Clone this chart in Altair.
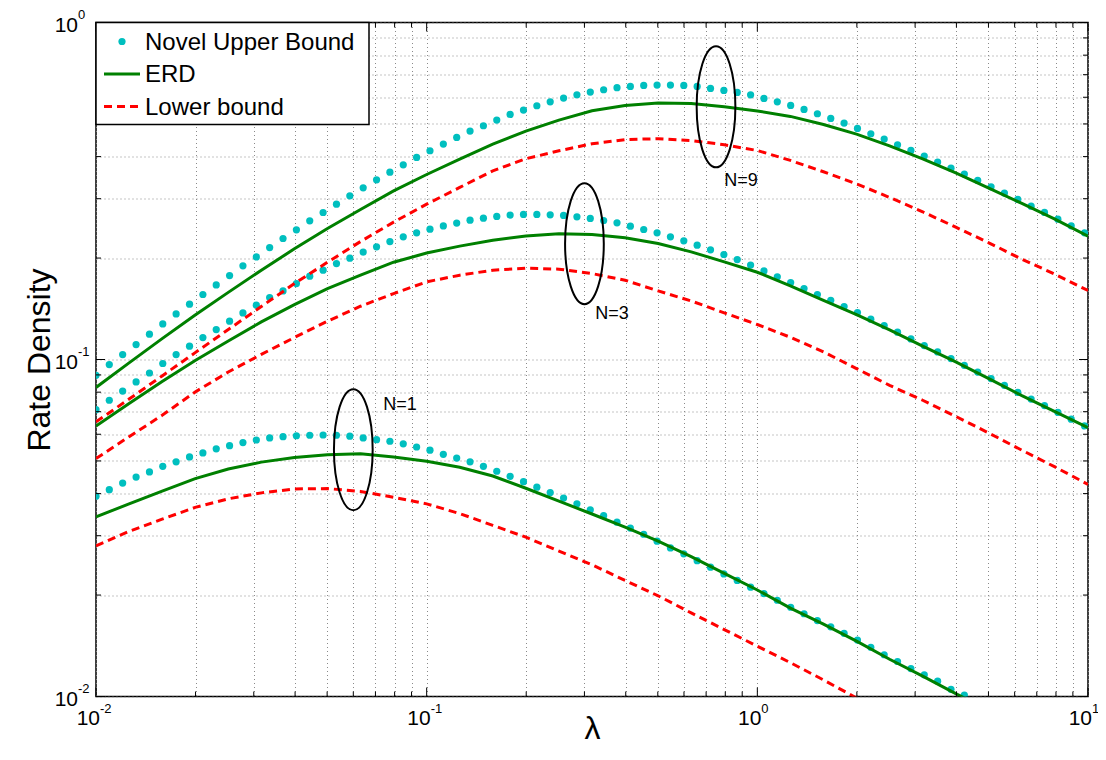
import altair as alt
import pandas as pd

# ---------------- data ----------------
# sample points of the "Novel Upper Bound" dots (lambda)
LAM_DOTS = [0.01000, 0.01097, 0.01204, 0.01322, 0.01451, 0.01592, 0.01747, 0.01918, 0.02105, 0.02310,
            0.02535, 0.02782, 0.03054, 0.03351, 0.03678, 0.04037, 0.04430, 0.04862, 0.05336, 0.05856,
            0.06427, 0.07054, 0.07741, 0.08496, 0.09324,
            0.10233, 0.11231, 0.12326, 0.13527, 0.14846, 0.16293, 0.17882, 0.19625, 0.21538, 0.23638,
            0.25942, 0.28471, 0.31247, 0.34293, 0.37637, 0.41306, 0.45333, 0.49752, 0.54602, 0.59925,
            0.65768, 0.72180, 0.79215, 0.86938, 0.95414,
            1.0472, 1.1492, 1.2613, 1.3843, 1.5192, 1.6673, 1.8298, 2.0082, 2.2040, 2.4189,
            2.6547, 2.9135, 3.1976, 3.5093, 3.8514, 4.2269, 4.6389, 5.0912, 5.5875, 6.1322,
            6.7301, 7.3862, 8.1063, 8.8964, 9.7638]

UB_N9 = [0.0898, 0.0966, 0.1034, 0.1107, 0.1189, 0.1275, 0.1365, 0.1459, 0.1559, 0.1665,
         0.1775, 0.1896, 0.2016, 0.2149, 0.2286, 0.2425, 0.2579, 0.2730, 0.2891, 0.3060,
         0.3231, 0.3413, 0.3597, 0.3783, 0.3978, 0.4163, 0.4357, 0.4560, 0.4762, 0.4939,
         0.5134, 0.5337, 0.5497, 0.5662, 0.5818, 0.5966, 0.6104, 0.6216, 0.6316, 0.6404,
         0.6463, 0.6507, 0.6522, 0.6522, 0.6507, 0.6463, 0.6374, 0.6288, 0.6203, 0.6100,
         0.5953, 0.5818, 0.5675, 0.5521, 0.5361, 0.5193, 0.5029, 0.4850, 0.4676, 0.4508,
         0.4337, 0.4173, 0.4014, 0.3852, 0.3697, 0.3549, 0.3398, 0.3255, 0.3117, 0.2985,
         0.2851, 0.2731, 0.2609, 0.2492, 0.2376]

UB_N3 = [0.0710, 0.0757, 0.0806, 0.0858, 0.0912, 0.0973, 0.1034, 0.1095, 0.1162, 0.1227,
         0.1299, 0.1375, 0.1449, 0.1527, 0.1598, 0.1680, 0.1767, 0.1841, 0.1926, 0.1998,
         0.2083, 0.2159, 0.2239, 0.2312, 0.2376, 0.2436, 0.2490, 0.2540, 0.2591, 0.2627,
         0.2657, 0.2682, 0.2694, 0.2694, 0.2688, 0.2676, 0.2651, 0.2621, 0.2585, 0.2544,
         0.2487, 0.2431, 0.2376, 0.2312, 0.2250, 0.2184, 0.2115, 0.2049, 0.1980, 0.1907,
         0.1832, 0.1759, 0.1692, 0.1624, 0.1559, 0.1499, 0.1436, 0.1378, 0.1317, 0.1261,
         0.1205, 0.1151, 0.1100, 0.1053, 0.1006, 0.0961, 0.0918, 0.0878, 0.0838, 0.0799,
         0.0763, 0.0730, 0.0697, 0.0665, 0.0635]

UB_N1 = [0.0393, 0.0411, 0.0430, 0.0448, 0.0464, 0.0482, 0.0497, 0.0514, 0.0528, 0.0543,
         0.0555, 0.0567, 0.0577, 0.0585, 0.0590, 0.0594, 0.0596, 0.0597, 0.0596, 0.0592,
         0.0585, 0.0578, 0.0572, 0.0562, 0.0550, 0.0538, 0.0523, 0.0510, 0.0497, 0.0482,
         0.0466, 0.0450, 0.0434, 0.0418, 0.0403, 0.0388, 0.0373, 0.0358, 0.0344, 0.0329,
         0.0316, 0.0303, 0.0289, 0.0276, 0.0265, 0.0253, 0.0242, 0.0231, 0.0221, 0.0211,
         0.0202, 0.0193, 0.0184, 0.0176, 0.0168, 0.0161, 0.0154, 0.0147, 0.0140, 0.0133,
         0.0127, 0.0121, 0.0116, 0.0111, 0.0105, 0.0101]

# sample points of the two line series (lambda)
LAM_LINE = [0.01, 0.012589, 0.015849, 0.019953, 0.025119, 0.031623, 0.039811, 0.050119, 0.063096, 0.079433,
            0.1, 0.12589, 0.15849, 0.19953, 0.25119, 0.31623, 0.39811, 0.50119, 0.63096, 0.79433,
            1.0, 1.2589, 1.5849, 1.9953, 2.5119, 3.1623, 3.9811, 5.0119, 6.3096, 7.9433, 10.0]

ERD_N9 = [0.0826, 0.0977, 0.1153, 0.1355, 0.1582, 0.1841, 0.2130, 0.2447, 0.2787, 0.3166,
          0.3540, 0.3932, 0.4357, 0.4762, 0.5134, 0.5471, 0.5675, 0.5767, 0.5754, 0.5623,
          0.5465, 0.5264, 0.4983, 0.4665, 0.4307, 0.3941, 0.3581, 0.3225, 0.2904, 0.2609, 0.2323]
ERD_N3 = [0.0635, 0.0740, 0.0860, 0.0993, 0.1135, 0.1293, 0.1455, 0.1622, 0.1779, 0.1944,
          0.2070, 0.2170, 0.2260, 0.2327, 0.2360, 0.2349, 0.2296, 0.2209, 0.2087, 0.1948,
          0.1815, 0.1655, 0.1499, 0.1359, 0.1224, 0.1095, 0.0984, 0.0878, 0.0781, 0.0700, 0.0628]
ERD_N1 = [0.0341, 0.0373, 0.0407, 0.0443, 0.0473, 0.0496, 0.0512, 0.0522, 0.0525, 0.0514,
          0.0499, 0.0479, 0.0451, 0.0415, 0.0380, 0.0348, 0.0318, 0.0289, 0.0260, 0.0232,
          0.0207, 0.0183, 0.0164, 0.0146, 0.0129, 0.0115, 0.0102, 0.0091]

LB_N9 = [0.0653, 0.0763, 0.0894, 0.1048, 0.1227, 0.1436, 0.1680, 0.1944, 0.2239, 0.2557,
         0.2890, 0.3240, 0.3630, 0.3941, 0.4163, 0.4366, 0.4493, 0.4521, 0.4466, 0.4337,
         0.4170, 0.3897, 0.3606, 0.3322, 0.3026, 0.2744, 0.2470, 0.2220, 0.1985, 0.1791, 0.1602]
LB_N3 = [0.0508, 0.0590, 0.0683, 0.0801, 0.0918, 0.1036, 0.1162, 0.1299, 0.1439, 0.1569,
         0.1700, 0.1779, 0.1841, 0.1866, 0.1854, 0.1799, 0.1719, 0.1598, 0.1492, 0.1375,
         0.1270, 0.1164, 0.1053, 0.0940, 0.0838, 0.0757, 0.0678, 0.0605, 0.0538, 0.0480, 0.0426]
LB_N1 = [0.0280, 0.0309, 0.0336, 0.0364, 0.0386, 0.0402, 0.0413, 0.0414, 0.0406, 0.0390,
         0.0373, 0.0349, 0.0322, 0.0297, 0.0270, 0.0246, 0.0221, 0.0199, 0.0177, 0.0158,
         0.0141, 0.0126, 0.0112, 0.0099]

SERIES = ["Novel Upper Bound", "ERD", "Lower bound"]
COLORS = ["#00BFBF", "#008000", "#FF0000"]

# annotations: ellipse centres and labels
ELL_LAM = [0.06, 0.30, 0.75]
ELL_VAL = [0.0540, 0.2207, 0.562]
LBL_TXT = ["N=1", "N=3", "N=9"]
LBL_LAM = [0.0830, 0.3634, 0.892]
LBL_VAL = [0.0731, 0.1363, 0.3383]

# axes
X_MAJOR = [0.01, 0.1, 1, 10]
X_EXP = ["-2", "-1", "0", "1"]
Y_MAJOR = [0.01, 0.1, 1]
Y_EXP = ["-2", "-1", "0"]
X_MINOR = [m * d for d in [0.01, 0.1, 1] for m in range(2, 10)]
Y_MINOR = [m * d for d in [0.01, 0.1] for m in range(2, 10)]

# ---------------- build tables ----------------
def long(lams, vals, n):
    return pd.DataFrame({"lam": lams[:len(vals)], "val": vals, "N": n})

dots = pd.concat([long(LAM_DOTS, UB_N9, "9"), long(LAM_DOTS, UB_N3, "3"), long(LAM_DOTS, UB_N1, "1")])
erd = pd.concat([long(LAM_LINE, ERD_N9, "9"), long(LAM_LINE, ERD_N3, "3"), long(LAM_LINE, ERD_N1, "1")])
lb = pd.concat([long(LAM_LINE, LB_N9, "9"), long(LAM_LINE, LB_N3, "3"), long(LAM_LINE, LB_N1, "1")])

W, H = 992, 674
FONT = "Liberation Sans"

xscale = alt.Scale(type="log", domain=[0.01, 10], nice=False)
yscale = alt.Scale(type="log", domain=[0.01, 1], nice=False)
X = alt.X("lam:Q", scale=xscale,
          axis=alt.Axis(values=X_MAJOR + X_MINOR, grid=True, labels=False, ticks=False, domain=False,
                        title="λ", titleFontSize=32, titleFont=FONT, titleFontWeight="normal",
                        titlePadding=17, titleColor="black"))
Y = alt.Y("val:Q", scale=yscale,
          axis=alt.Axis(values=Y_MAJOR + Y_MINOR, grid=True, labels=False, ticks=False, domain=False,
                        title="Rate Density", titleFontSize=32, titleFont=FONT, titleFontWeight="normal",
                        titlePadding=40, titleColor="black"))

dot_layer = alt.Chart(dots).mark_circle(size=52, opacity=1, color=COLORS[0], clip=True).encode(x=X, y=Y)
erd_layer = alt.Chart(erd).mark_line(color=COLORS[1], strokeWidth=3, clip=True).encode(
    x=X, y=Y, detail="N:N")
lb_layer = alt.Chart(lb).mark_line(color=COLORS[2], strokeWidth=3, strokeDash=[8, 5], clip=True).encode(
    x=X, y=Y, detail="N:N")

# inward ticks (MATLAB style) on all four sides
xt_major = pd.DataFrame({"lam": X_MAJOR})
xt_minor = pd.DataFrame({"lam": X_MINOR})
yt_major = pd.DataFrame({"val": Y_MAJOR})
yt_minor = pd.DataFrame({"val": Y_MINOR})
ticks = []
for df, ln in [(xt_major, 9), (xt_minor, 5)]:
    ticks.append(alt.Chart(df).mark_rule(color="black", strokeWidth=1).encode(
        x=X, y=alt.value(H), y2=alt.value(H - ln)))
    ticks.append(alt.Chart(df).mark_rule(color="black", strokeWidth=1).encode(
        x=X, y=alt.value(0), y2=alt.value(ln)))
for df, ln in [(yt_major, 9), (yt_minor, 5)]:
    ticks.append(alt.Chart(df).mark_rule(color="black", strokeWidth=1).encode(
        y=Y, x=alt.value(0), x2=alt.value(ln)))
    ticks.append(alt.Chart(df).mark_rule(color="black", strokeWidth=1).encode(
        y=Y, x=alt.value(W), x2=alt.value(W - ln)))

# tick labels as 10^k with raised exponent
xl = pd.DataFrame({"lam": X_MAJOR, "exp": X_EXP})
yl = pd.DataFrame({"val": Y_MAJOR, "exp": Y_EXP})
xlab_base = alt.Chart(xl).mark_text(font=FONT, fontSize=21, align="right", baseline="alphabetic",
                                    dx=4, color="black").encode(x=X, y=alt.value(H + 28), text=alt.value("10"))
xlab_exp = alt.Chart(xl).mark_text(font=FONT, fontSize=13, align="left", baseline="alphabetic",
                                   dx=4, color="black").encode(x=X, y=alt.value(H + 16), text="exp:N")
ylab_base = alt.Chart(yl).mark_text(font=FONT, fontSize=21, align="right", baseline="alphabetic",
                                    dy=9.5, color="black").encode(y=Y, x=alt.value(-18), text=alt.value("10"))
ylab_exp = alt.Chart(yl).mark_text(font=FONT, fontSize=13, align="left", baseline="alphabetic",
                                   dy=-4, color="black").encode(y=Y, x=alt.value(-18), text="exp:N")

# ellipses around the curve families
rx = 0.32
k = 0.5523
ell_path = (f"M0,-1 C{rx*k:.4f},-1 {rx},-{k} {rx},0 C{rx},{k} {rx*k:.4f},1 0,1 "
            f"C-{rx*k:.4f},1 -{rx},{k} -{rx},0 C-{rx},-{k} -{rx*k:.4f},-1 0,-1 Z")
ell = pd.DataFrame({"lam": ELL_LAM, "val": ELL_VAL})
ell_layer = alt.Chart(ell).mark_point(shape=ell_path, size=121 * 121, filled=False, color="black",
                                      strokeWidth=2, opacity=1).encode(x=X, y=Y)
lbl = pd.DataFrame({"lam": LBL_LAM, "val": LBL_VAL, "t": LBL_TXT})
lbl_layer = alt.Chart(lbl).mark_text(font=FONT, fontSize=18, color="black", align="center",
                                     baseline="middle").encode(x=X, y=Y, text="t:N")

# legend box (top-left, inside the axes)
one = pd.DataFrame({"a": [0]})
leg = [
    alt.Chart(one).mark_rect(fill="white", stroke="black", strokeWidth=1.5).encode(
        x=alt.value(0), x2=alt.value(273), y=alt.value(0), y2=alt.value(102)),
    alt.Chart(one).mark_circle(size=52, opacity=1, color=COLORS[0]).encode(
        x=alt.value(26), y=alt.value(19)),
    alt.Chart(one).mark_rule(color=COLORS[1], strokeWidth=3).encode(
        x=alt.value(8), x2=alt.value(44), y=alt.value(51.5)),
    alt.Chart(one).mark_rule(color=COLORS[2], strokeWidth=3, strokeDash=[8, 5]).encode(
        x=alt.value(8), x2=alt.value(44), y=alt.value(84)),
]
for i, name in enumerate(SERIES):
    leg.append(alt.Chart(one).mark_text(font=FONT, fontSize=24, align="left", baseline="alphabetic",
                                        color="black").encode(
        x=alt.value(49), y=alt.value(27.5 + 32.3 * i), text=alt.value(name)))

chart = alt.layer(
    dot_layer, erd_layer, lb_layer, *ticks, ell_layer, lbl_layer,
    xlab_base, xlab_exp, ylab_base, ylab_exp, *leg
).properties(
    width=W, height=H,
    autosize=alt.AutoSizeParams(type="none"),
    padding={"left": 88, "top": 14.5, "right": 10, "bottom": 51.5},
    background="white",
).configure_view(
    stroke="black", strokeWidth=1.5
).configure_axis(
    gridColor="#8a8a8a", gridDash=[1, 3], gridWidth=1, gridOpacity=1
)

chart.save("out.html", embed_options={"renderer": "svg", "actions": False})
